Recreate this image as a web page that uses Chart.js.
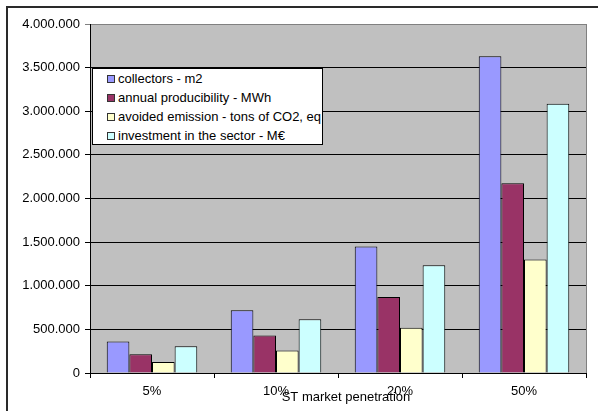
<!DOCTYPE html>
<html>
<head>
<meta charset="utf-8">
<script src="https://cdn.jsdelivr.net/npm/chart.js@4.4.1/dist/chart.umd.min.js"></script>
<style>
  html, body { margin: 0; padding: 0; background: #fff; overflow: hidden; }
  #wrap { position: relative; width: 598px; height: 411px; }
  #frame { position: absolute; left: 6px; top: 6px; width: 700px; height: 700px;
           border: 2px solid #2a2a2a; box-sizing: border-box; }
  canvas { position: absolute; left: 0; top: 0; }
  #legend { position: absolute; left: 92px; top: 68px; width: 231px; height: 77px;
            box-sizing: border-box; background: #fff; border: 1px solid #000;
            font: 13px "Liberation Sans", Arial, sans-serif; color: #000; padding-top: 0px; }
  #legend .row { height: 19px; line-height: 19px; white-space: nowrap; padding-left: 14px; }
  #legend .sw { display: inline-block; width: 6px; height: 6px; border: 1px solid #333;
                margin-right: 3px; vertical-align: 0px; }
</style>
</head>
<body>
<div id="wrap">
  <div id="frame"></div>
  <canvas id="c" width="598" height="411"></canvas>
  <div id="legend"></div>
</div>
<script>
// ST market penetration scenarios
const categories = ['5%', '10%', '20%', '50%'];

const seriesNames = [
  'collectors - m2',
  'annual producibility - MWh',
  'avoided emission - tons of CO2, eq',
  'investment in the sector - M\u20AC'
];

const collectors   = [360000, 720000, 1450000, 3630000];
const producibility = [215000, 430000, 870000, 2175000];
const avoided      = [125000, 258000, 520000, 1300000];
const investment   = [308000, 617000, 1235000, 3085000];

const seriesColors = ['#9999FF', '#993366', '#FFFFCC', '#CCFFFF'];

const yTicks = [0, 500000, 1000000, 1500000, 2000000, 2500000, 3000000, 3500000, 4000000];
const xTitle = 'ST market penetration';

const FONT = '"Liberation Sans", Arial, sans-serif';

function fmt(v) {
  return String(v).replace(/\B(?=(\d{3})+(?!\d))/g, '.');
}

const plotBackground = {
  id: 'plotBackground',
  beforeDraw(chart) {
    const { ctx, chartArea: a } = chart;
    ctx.save();
    ctx.fillStyle = '#C0C0C0';
    ctx.fillRect(a.left, a.top, a.right - a.left, a.bottom - a.top);
    ctx.restore();
  },
  afterDatasetsDraw(chart) {
    const { ctx, chartArea: a } = chart;
    ctx.save();
    ctx.strokeStyle = '#808080';
    ctx.lineWidth = 1;
    ctx.beginPath();
    ctx.moveTo(Math.round(a.right) + 0.5, a.top);
    ctx.lineTo(Math.round(a.right) + 0.5, a.bottom);
    ctx.stroke();
    ctx.restore();
  },
  afterDraw(chart) {
    const { ctx, chartArea: a } = chart;
    ctx.save();
    ctx.fillStyle = '#000';
    ctx.font = '13px ' + FONT;
    ctx.textAlign = 'center';
    ctx.textBaseline = 'middle';
    ctx.fillText(xTitle, (a.left + a.right) / 2 + 8, a.bottom + 24);
    ctx.restore();
  }
};

const datasets = [collectors, producibility, avoided, investment].map((d, i) => ({
  label: seriesNames[i],
  data: d,
  backgroundColor: seriesColors[i],
  borderColor: '#000',
  borderWidth: 1,
  borderSkipped: 'start',
  categoryPercentage: 0.73,
  barPercentage: 1.0
}));

// HTML legend built from the series
const legendEl = document.getElementById('legend');
seriesNames.forEach((name, i) => {
  const row = document.createElement('div');
  row.className = 'row';
  const sw = document.createElement('span');
  sw.className = 'sw';
  sw.style.background = seriesColors[i];
  row.appendChild(sw);
  row.appendChild(document.createTextNode(name));
  legendEl.appendChild(row);
});

new Chart(document.getElementById('c'), {
  type: 'bar',
  data: { labels: categories, datasets },
  plugins: [plotBackground],
  options: {
    responsive: false,
    animation: false,
    layout: { padding: { top: 24, right: 12, left: 0, bottom: 0 } },
    plugins: { legend: { display: false }, tooltip: { enabled: false } },
    scales: {
      x: {
        offset: true,
        grid: {
          display: true, offset: true, drawOnChartArea: false, drawTicks: true,
          tickLength: 5, color: '#000', lineWidth: 1
        },
        border: { display: true, color: '#000', width: 1 },
        ticks: { color: '#000', font: { family: FONT, size: 13 }, padding: 6, maxRotation: 0 },
        afterFit(scale) { scale.height = 38; }
      },
      y: {
        min: 0, max: 4000000,
        afterBuildTicks(scale) { scale.ticks = yTicks.map(v => ({ value: v })); },
        grid: {
          color: ctx => (ctx.tick && ctx.tick.value === 4000000) ? '#808080' : '#000',
          lineWidth: 1, drawTicks: true, tickLength: 5
        },
        border: { display: true, color: '#000', width: 1 },
        ticks: {
          color: '#000', font: { family: FONT, size: 13 }, padding: 5,
          callback: v => fmt(v)
        },
        afterFit(scale) { scale.width = 90; }
      }
    }
  }
});
</script>
</body>
</html>
